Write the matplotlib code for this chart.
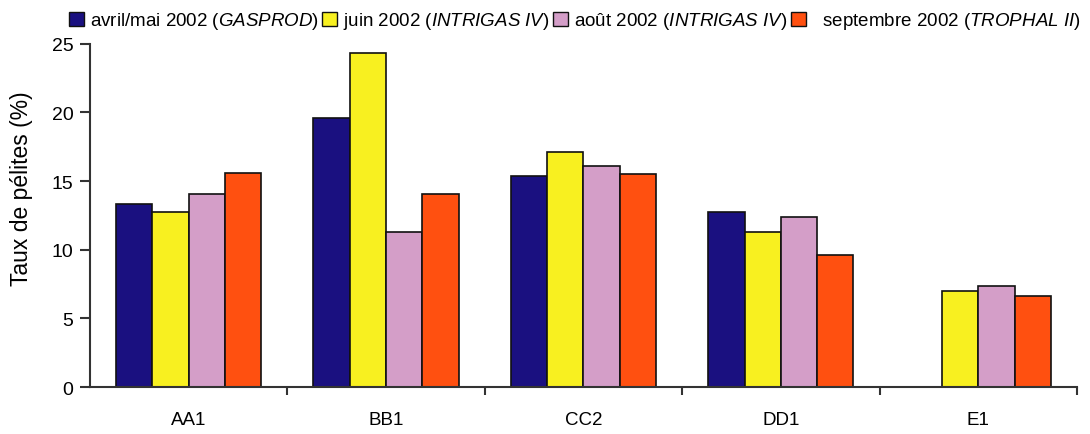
import numpy as np
import matplotlib
matplotlib.use("Agg")
import matplotlib.pyplot as plt
from matplotlib.patches import Patch

plt.rcParams['font.family'] = ['Liberation Sans', 'DejaVu Sans']
plt.rcParams['mathtext.fontset'] = 'custom'
plt.rcParams['mathtext.rm'] = 'Liberation Sans'
plt.rcParams['mathtext.it'] = 'Liberation Sans:italic'

stations = ["AA1", "BB1", "CC2", "DD1", "E1"]
campagnes = [r"avril/mai 2002 ($\mathit{GASPROD}$)",
             r"juin 2002 ($\mathit{INTRIGAS\ IV}$)",
             r"août 2002 ($\mathit{INTRIGAS\ IV}$)",
             r"  septembre 2002 ($\mathit{TROPHAL\ II}$)"]
avril_mai = [13.3, 19.6, 15.35, 12.75, 0]
juin = [12.75, 24.3, 17.15, 11.3, 7.0]
aout = [14.05, 11.3, 16.1, 12.35, 7.35]
septembre = [15.6, 14.05, 15.5, 9.6, 6.6]
couleurs = ["#1a1080", "#f8f020", "#d49ec8", "#ff5010"]

fig = plt.figure(figsize=(10.9, 4.35), dpi=100)
ax = fig.add_axes([0.0826, 0.108, 0.9054, 0.789])

x = np.arange(len(stations))
w = 0.184
series = [avril_mai, juin, aout, septembre]
handles = []
for i, vals in enumerate(series):
    ax.bar(x + (i - 1.5) * w, vals, w, color=couleurs[i], edgecolor="#111111", linewidth=1.2)
    handles.append(Patch(facecolor=couleurs[i], edgecolor="#111111", linewidth=1.0))

ax.set_xlim(-0.5, 4.5)
ax.set_ylim(0, 25)
ax.set_yticks([0, 5, 10, 15, 20, 25])
ax.set_xticks(x)
ax.set_xticklabels(stations)
ax.set_xticks(np.arange(0.5, 5, 1), minor=True)
ax.tick_params(axis="x", which="major", length=0, pad=17, labelsize=13.5)
ax.tick_params(axis="x", which="minor", length=6, width=1.5, direction="out", color="#333333")
ax.tick_params(axis="y", length=7, width=1.5, direction="out", color="#333333", labelsize=14, pad=5)
ax.set_ylabel("Taux de pélites (%)", fontsize=16.5)
ax.yaxis.set_label_coords(-0.058, 0.58)

for s in ["top", "right"]:
    ax.spines[s].set_visible(False)
for s in ["left", "bottom"]:
    ax.spines[s].set_linewidth(1.5)
    ax.spines[s].set_color("#333333")

fig.legend(handles, campagnes, loc="upper left", bbox_to_anchor=(0.053, 1.0), ncol=4,
           frameon=False, fontsize=13.5, handlelength=0.8, handleheight=0.8,
           handletextpad=0.3, columnspacing=0.2, borderaxespad=0.2)

fig.savefig("out.png", dpi=100)
